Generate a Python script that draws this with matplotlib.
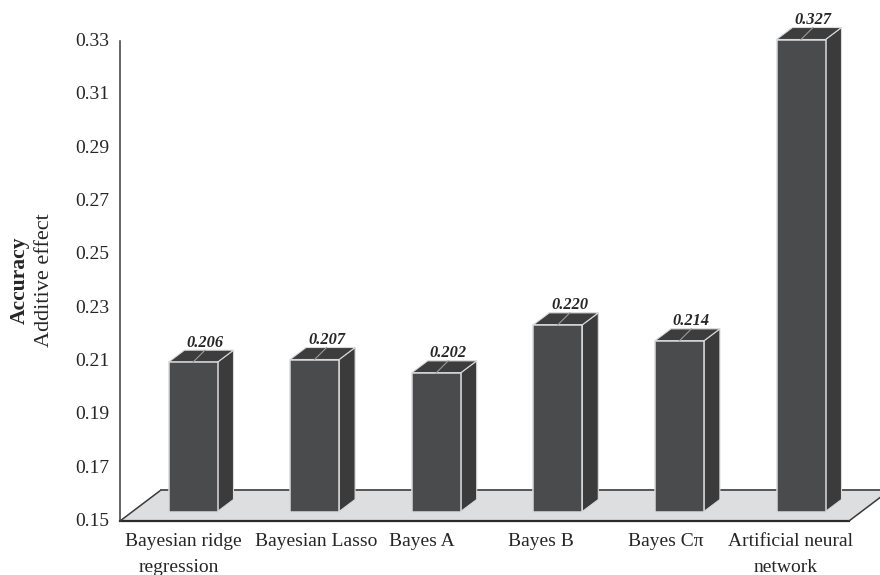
import matplotlib

matplotlib.use("Agg")
import matplotlib.pyplot as plt
from matplotlib.patches import Polygon
from matplotlib.transforms import ScaledTranslation

plt.rcParams["font.family"] = ["Liberation Serif", "DejaVu Serif"]

METHODS = ["Bayesian ridge\nregression", "Bayesian Lasso", "Bayes A", "Bayes B",
           "Bayes C\u03c0", "Artificial neural\nnetwork"]
ACCURACY = [0.206, 0.207, 0.202, 0.220, 0.214, 0.327]
Y_TICKS = [0.15, 0.17, 0.19, 0.21, 0.23, 0.25, 0.27, 0.29, 0.31, 0.33]

W, H = 880, 575
AX_LEFT, AX_RIGHT, AX_TOP, AX_BOTTOM = 120, 880, 41, 521   # axes box, pixels
STEP = 121.6          # pixels between bars
Y_SCALE = 480 / 0.18  # pixels per unit of accuracy

FRONT = "#4a4b4d"
SIDE = "#3b3b3c"
TOP = "#3d3d3e"
EDGE = "#d9dadb"
FLOOR = "#dddedf"
INK = "#262626"


def px_x(p):
    return p / STEP


def px_y(p):
    return p / Y_SCALE


fig = plt.figure(figsize=(W / 100, H / 100), dpi=100)
ax = fig.add_axes([AX_LEFT / W, 1 - AX_BOTTOM / H, (AX_RIGHT - AX_LEFT) / W, (AX_BOTTOM - AX_TOP) / H])
ax.set_xlim((AX_LEFT - 193) / STEP, (AX_RIGHT - 193) / STEP)
ax.set_ylim(Y_TICKS[0], Y_TICKS[-1])

# floor of the 3d box
x0, x1 = ax.get_xlim()[0], px_x(849 - 193)
y0 = Y_TICKS[0]
floor_dx, floor_dy = px_x(41), px_y(31)
ax.add_patch(Polygon([(x0, y0), (x1, y0), (x1 + floor_dx, y0 + floor_dy), (x0 + floor_dx, y0 + floor_dy)],
                     facecolor=FLOOR, edgecolor="none", zorder=1))
ax.plot([x0, x1], [y0, y0], color="#2b2b2b", lw=1.6, zorder=2, clip_on=False)
ax.plot([x0, x0 + floor_dx], [y0, y0 + floor_dy], color="#3a3a3a", lw=1.1, zorder=2)
ax.plot([x1, x1 + floor_dx], [y0, y0 + floor_dy], color="#3a3a3a", lw=1.1, zorder=2)
ax.plot([x0 + floor_dx, x1 + floor_dx], [y0 + floor_dy] * 2, color="#555555", lw=1.4, zorder=2)

# bars stand a little in front of the back wall, so they are lifted off the axis base
lift = px_y(9.5)
half = px_x(24.5)
dx, dy = px_x(16), px_y(12)
for i, v in enumerate(ACCURACY):
    base = y0 + lift
    top = v + lift
    ax.bar(i, v - y0, bottom=base, width=2 * half, color=FRONT, edgecolor=EDGE, lw=1.1, zorder=4, clip_on=False)
    ax.add_patch(Polygon([(i + half, base), (i + half + dx, base + dy), (i + half + dx, top + dy), (i + half, top)],
                         facecolor=SIDE, edgecolor=EDGE, lw=0.8, zorder=3, clip_on=False))
    ax.add_patch(Polygon([(i - half, top), (i + half, top), (i + half + dx, top + dy), (i - half + dx, top + dy)],
                         facecolor=TOP, edgecolor=EDGE, lw=0.8, zorder=3, clip_on=False))
    ax.plot([i, i + dx * 0.75], [top, top + dy], color="#9a9a9a", lw=0.8, zorder=5, clip_on=False)
    ax.text(i + px_x(12), top + dy + px_y(7.5), f"{v:.3f}", ha="center", va="center", fontsize=11.8,
            style="italic", weight="bold", color=INK, clip_on=False)

for side in ("top", "right", "bottom"):
    ax.spines[side].set_visible(False)
ax.spines["left"].set_color("#3a3a3a")
ax.spines["left"].set_linewidth(1.1)
ax.set_xticks([])
ax.set_yticks(Y_TICKS)
ax.set_yticklabels([f"{t:.2f}" for t in Y_TICKS], fontsize=14, color=INK)
ax.tick_params(axis="y", length=0, pad=7.5)
# tick labels ride slightly above their gridline positions
shift = ScaledTranslation(0, 1.5 / 100, fig.dpi_scale_trans)
for label in ax.get_yticklabels():
    label.set_transform(label.get_transform() + shift)

# category labels are hand placed: they do not sit centred under the bars
label_x = [183, 316, 422, 541, 666, 791]
second_x = {0: 179, 5: 786}
for i, name in enumerate(METHODS):
    lines = name.split("\n")
    fig.text(label_x[i] / W, 1 - 541 / H, lines[0], ha="center", va="center", fontsize=14, color=INK)
    if len(lines) > 1:
        fig.text(second_x[i] / W, 1 - 567 / H, lines[1], ha="center", va="center", fontsize=14, color=INK)

fig.text(19.5 / W, 1 - 280 / H, "Accuracy", rotation=90, ha="center", va="center", fontsize=15.5,
         weight="bold", color=INK)
fig.text(44.5 / W, 1 - 280 / H, "Additive effect", rotation=90, ha="center", va="center", fontsize=16, color=INK)

fig.savefig("out.png", dpi=100)
